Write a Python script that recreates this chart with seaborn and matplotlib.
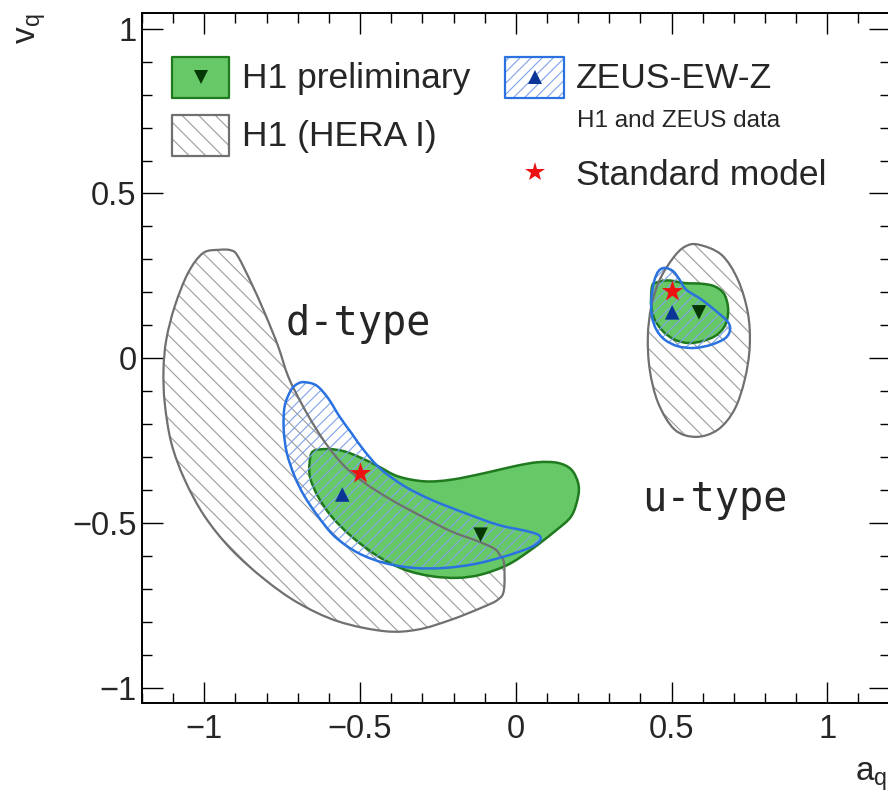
import numpy as np
import pandas as pd
import matplotlib
matplotlib.use("Agg")
import matplotlib.pyplot as plt
import seaborn as sns
from matplotlib.patches import PathPatch, Rectangle
from matplotlib.path import Path
from matplotlib.lines import Line2D
from matplotlib.ticker import MultipleLocator

# contour outlines, (a_q, v_q)
h1_hera_d_a = [-0.951, -1.004, -1.052, -1.095, -1.122, -1.131, -1.127, -1.106, -1.063, -0.999,
               -0.913, -0.806, -0.699, -0.571, -0.421, -0.314, -0.207, -0.111, -0.057, -0.038,
               -0.038, -0.052, -0.068, -0.121, -0.207, -0.303, -0.400, -0.485, -0.550, -0.603,
               -0.646, -0.689, -0.731, -0.763, -0.806, -0.849, -0.892, -0.913]
h1_hera_d_v = [0.329, 0.319, 0.259, 0.157, 0.056, -0.035, -0.136, -0.257, -0.369, -0.480,
               -0.581, -0.672, -0.743, -0.799, -0.829, -0.824, -0.794, -0.758, -0.733, -0.703,
               -0.622, -0.597, -0.579, -0.556, -0.526, -0.480, -0.430, -0.379, -0.328, -0.268,
               -0.207, -0.136, -0.055, 0.036, 0.137, 0.228, 0.309, 0.327]

h1_prel_d_a = [-0.651, -0.662, -0.660, -0.635, -0.592, -0.528, -0.442, -0.357, -0.271, -0.186,
               -0.111, -0.025, 0.050, 0.125, 0.178, 0.200, 0.200, 0.178, 0.135, 0.071,
               -0.004, -0.100, -0.207, -0.293, -0.378, -0.442, -0.496, -0.550, -0.603]
h1_prel_d_v = [-0.283, -0.318, -0.364, -0.420, -0.480, -0.541, -0.602, -0.642, -0.662, -0.667,
               -0.657, -0.627, -0.581, -0.526, -0.480, -0.420, -0.379, -0.338, -0.318, -0.316,
               -0.328, -0.349, -0.369, -0.374, -0.359, -0.328, -0.303, -0.283, -0.276]

zeus_d_a = [-0.678, -0.640, -0.603, -0.566, -0.528, -0.485, -0.432, -0.357, -0.271, -0.164,
            -0.057, 0.039, 0.076, 0.076, 0.044, -0.036, -0.132, -0.229, -0.325, -0.421,
            -0.507, -0.582, -0.635, -0.678, -0.710, -0.735, -0.745, -0.742, -0.721, -0.699]
zeus_d_v = [-0.073, -0.083, -0.121, -0.177, -0.227, -0.283, -0.338, -0.389, -0.430, -0.470,
            -0.506, -0.526, -0.539, -0.556, -0.576, -0.602, -0.625, -0.637, -0.637, -0.622,
            -0.591, -0.541, -0.480, -0.420, -0.359, -0.288, -0.217, -0.146, -0.096, -0.077]

h1_hera_u_a = [0.585, 0.660, 0.713, 0.745, 0.751, 0.735, 0.702, 0.649, 0.579, 0.510,
               0.457, 0.430, 0.424, 0.435, 0.462, 0.505, 0.542]
h1_hera_u_v = [0.345, 0.314, 0.238, 0.137, 0.036, -0.065, -0.156, -0.217, -0.239, -0.217,
               -0.136, -0.035, 0.066, 0.157, 0.238, 0.304, 0.338]

h1_prel_u_a = [0.446, 0.489, 0.542, 0.596, 0.638, 0.668, 0.681, 0.679, 0.665, 0.638,
               0.596, 0.553, 0.510, 0.473, 0.446, 0.435, 0.435, 0.438]
h1_prel_u_v = [0.228, 0.236, 0.228, 0.226, 0.218, 0.196, 0.157, 0.119, 0.089, 0.066,
               0.051, 0.046, 0.056, 0.081, 0.117, 0.157, 0.198, 0.220]

zeus_u_a = [0.478, 0.505, 0.526, 0.547, 0.596, 0.644, 0.679, 0.688, 0.673, 0.628,
            0.574, 0.521, 0.478, 0.451, 0.437, 0.435, 0.444, 0.458]
zeus_u_v = [0.274, 0.264, 0.238, 0.208, 0.178, 0.142, 0.112, 0.087, 0.061, 0.041,
            0.031, 0.036, 0.056, 0.087, 0.127, 0.178, 0.233, 0.264]

# best fit points and SM values
point_kind = ["H1 preliminary", "ZEUS-EW-Z", "Standard model",
              "H1 preliminary", "ZEUS-EW-Z", "Standard model"]
point_a = [-0.113, -0.557, -0.5, 0.588, 0.502, 0.5]
point_v = [-0.536, -0.414, -0.35, 0.139, 0.139, 0.203]

x_ticks = [-1, -0.5, 0, 0.5, 1]
x_tick_labels = ["\u22121", "\u22120.5", "0", "0.5", "1"]
y_ticks = [-1, -0.5, 0, 0.5, 1]
y_tick_labels = ["\u22121", "\u22120.5", "0", "0.5", "1"]

GREEN_FILL = "#66c866"
GREEN_EDGE = "#1f7a1f"
GREEN_MARK = "#063806"
BLUE_EDGE = "#2a72e0"
BLUE_HATCH = "#7fa3ea"
BLUE_MARK = "#0a3597"
GRAY_EDGE = "#707070"
GRAY_HATCH = "#9c9c9c"

sns.set_style("ticks")
plt.rcParams["font.family"] = ["Liberation Sans", "DejaVu Sans"]
plt.rcParams["hatch.linewidth"] = 0.8

W, H = 888, 795
fig = plt.figure(figsize=(W / 100, H / 100), dpi=100)
ax = fig.add_axes([142 / W, 1 - 703 / H, 747.6 / W, 689.7 / H])


def fx(px):
    return px / W


def fy(py):
    return 1 - py / H


def closed_path(a, v):
    # closed curve through the outline vertices (Catmull-Rom as cubic Bezier)
    p = np.column_stack([a, v])
    n = len(p)
    verts = [p[0]]
    codes = [Path.MOVETO]
    for i in range(n):
        p0, p1, p2, p3 = p[i - 1], p[i], p[(i + 1) % n], p[(i + 2) % n]
        verts += [p1 + (p2 - p0) / 6, p2 - (p3 - p1) / 6, p2]
        codes += [Path.CURVE4] * 3
    verts.append(p[0])
    codes.append(Path.CLOSEPOLY)
    return Path(verts, codes)


def hatched(a, v, hatch, hcol, ecol, lw, zh, ze):
    path = closed_path(a, v)
    ax.add_patch(PathPatch(path, facecolor="none", edgecolor=hcol,
                           hatch=hatch, lw=0, zorder=zh))
    ax.add_patch(PathPatch(path, facecolor="none", edgecolor=ecol,
                           lw=lw, joinstyle="round", zorder=ze))


def filled(a, v):
    ax.add_patch(PathPatch(closed_path(a, v), facecolor=GREEN_FILL, edgecolor=GREEN_EDGE,
                           lw=1.8, joinstyle="round", zorder=2))


for a, v in [(h1_hera_d_a, h1_hera_d_v), (h1_hera_u_a, h1_hera_u_v)]:
    hatched(a, v, "\\\\", GRAY_HATCH, GRAY_EDGE, 1.6, 1, 4.5)
for a, v in [(h1_prel_d_a, h1_prel_d_v), (h1_prel_u_a, h1_prel_u_v)]:
    filled(a, v)
for a, v in [(zeus_d_a, zeus_d_v), (zeus_u_a, zeus_u_v)]:
    hatched(a, v, "///", BLUE_HATCH, BLUE_EDGE, 1.8, 4, 5)

points = pd.DataFrame({"a": point_a, "v": point_v, "kind": point_kind})
sns.scatterplot(data=points[points.kind != "Standard model"], x="a", y="v",
                hue="kind", style="kind",
                palette={"H1 preliminary": GREEN_MARK, "ZEUS-EW-Z": BLUE_MARK},
                markers={"H1 preliminary": "v", "ZEUS-EW-Z": "^"},
                s=110, linewidth=0, legend=False, ax=ax, zorder=6)
sns.scatterplot(data=points[points.kind == "Standard model"], x="a", y="v",
                color="#ee1111", marker="*", s=260, linewidth=0,
                legend=False, ax=ax, zorder=7)

ax.set_xlim(-1.2, 1.2)
ax.set_ylim(-1.047, 1.047)
ax.set_xticks(x_ticks, labels=x_tick_labels)
ax.set_yticks(y_ticks, labels=y_tick_labels)
ax.xaxis.set_minor_locator(MultipleLocator(0.1))
ax.yaxis.set_minor_locator(MultipleLocator(0.1))
ax.tick_params(which="both", direction="in", top=True, right=True,
               color="black", width=1.0, labelsize=23.5)
ax.tick_params(which="major", length=15)
ax.tick_params(which="minor", length=7.2)
ax.tick_params(axis="x", which="major", pad=8)
ax.tick_params(axis="y", which="major", pad=4)
for sp in ax.spines.values():
    sp.set_linewidth(1.4)
    sp.set_color("black")
ax.set_xlabel("")
ax.set_ylabel("")

# axis titles, ROOT style
fig.text(fx(32), fy(14), r"v$_\mathregular{q}$", rotation=90, ha="center", va="top",
         fontsize=24)
fig.text(fx(855), fy(780), r"a$_\mathregular{q}$", ha="left", va="baseline", fontsize=24)

# region labels
ax.text(-0.506, 0.07, "d-type", family="DejaVu Sans Mono", fontsize=29,
        ha="center", va="baseline", zorder=8)
ax.text(0.640, -0.465, "u-type", family="DejaVu Sans Mono", fontsize=29,
        ha="center", va="baseline", zorder=8)


# legend drawn by hand
def legend_box(x0, y0, x1, y1, **kw):
    fig.add_artist(Rectangle((fx(x0), fy(y1)), fx(x1) - fx(x0), fy(y0) - fy(y1),
                             transform=fig.transFigure, joinstyle="round", **kw))


legend_box(172, 57, 229, 98, facecolor=GREEN_FILL, edgecolor=GREEN_EDGE, lw=1.6)
fig.add_artist(Line2D([fx(200.5)], [fy(77)], marker="v", ms=10, color=GREEN_MARK,
                      mew=0, transform=fig.transFigure))
fig.text(fx(242), fy(88), "H1 preliminary", fontsize=25.5, va="baseline")

legend_box(172, 115, 229, 156, facecolor="white", edgecolor=GRAY_HATCH, hatch="\\\\", lw=0)
legend_box(172, 115, 229, 156, facecolor="none", edgecolor=GRAY_EDGE, lw=1.6)
fig.text(fx(242), fy(146), "H1 (HERA I)", fontsize=25.5, va="baseline")

legend_box(505, 57, 564, 98, facecolor="white", edgecolor=BLUE_HATCH, hatch="///", lw=0)
legend_box(505, 57, 564, 98, facecolor="none", edgecolor=BLUE_EDGE, lw=1.6)
fig.add_artist(Line2D([fx(535)], [fy(77)], marker="^", ms=10, color=BLUE_MARK,
                      mew=0, transform=fig.transFigure))
fig.text(fx(576), fy(88), "ZEUS-EW-Z", fontsize=25.5, va="baseline")
fig.text(fx(577), fy(127), "H1 and ZEUS data", fontsize=17.5, va="baseline")

fig.add_artist(Line2D([fx(535)], [fy(172)], marker="*", ms=15, color="#ee1111",
                      mew=0, transform=fig.transFigure))
fig.text(fx(576), fy(185), "Standard model", fontsize=25.5, va="baseline")

fig.savefig("out.png", dpi=100)
